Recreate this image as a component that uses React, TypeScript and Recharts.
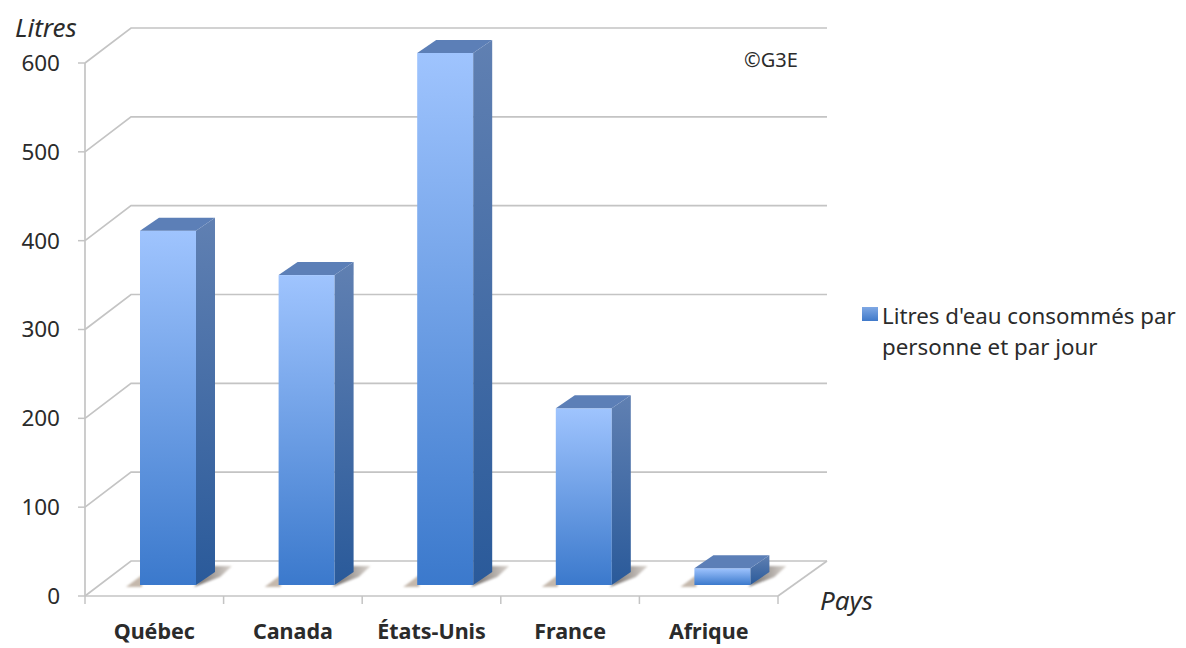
import { Bar, BarChart, CartesianGrid, Legend, XAxis, YAxis } from 'recharts';

const categories = ['Québec', 'Canada', 'États-Unis', 'France', 'Afrique'];
const litres = [400, 350, 600, 200, 20];
const yTicks = [0, 100, 200, 300, 400, 500, 600];
const seriesName = "Litres d'eau consommés par personne et par jour";

const data = categories.map((pays, i) => ({ pays, litres: litres[i] }));

const FONT = '"Noto Sans", sans-serif';
const TEXT = '#2b2b2b';
const LINE = '#c4c4c4';

// depth of the fake 3D walls and of the bars
const WALL_DX = 46;
const WALL_DY = 35;
const BAR_SHIFT_X = 14;
const BAR_SHIFT_Y = 11;
const BAR_DX = 19;
const BAR_DY = 13;
const BAND = 138.6;

const WallLine = ({ x1, x2, y1, index }: any) => {
  const y = y1;
  const back = y - WALL_DY;
  return (
    <g key={index}>
      <polyline
        points={`${x1},${y} ${x1 + WALL_DX},${back} ${x2 + 49},${back}`}
        fill="none"
        stroke={LINE}
        strokeWidth={1.7}
      />
      {/* right edge of the floor */}
      {Math.abs(y - 596) < 1 && (
        <line x1={x2} y1={y} x2={x2 + 49} y2={back} stroke={LINE} strokeWidth={1.7} />
      )}
    </g>
  );
};

const Box = ({ x, y, width, height }: any) => {
  const left = x + BAR_SHIFT_X;
  const right = left + width;
  const top = y - BAR_SHIFT_Y + 1;
  const bottom = y - BAR_SHIFT_Y + height;
  return (
    <g>
      <polygon
        points={`${left - 14},${bottom + 2} ${left + 2},${bottom - 10} ${left + 2},${bottom + 2}`}
        fill="#c4b8ac"
        filter="url(#soft)"
      />
      <polygon
        points={`${right - 2},${bottom + 2} ${right + BAR_DX - 2},${bottom - BAR_DY - 6} ${right + 36},${bottom - BAR_DY - 6} ${right + 24},${bottom - 8}`}
        fill="url(#floorShadow)"
        filter="url(#soft)"
      />
      <rect x={left} y={top} width={width} height={bottom - top} fill="url(#barFront)" />
      <polygon
        points={`${right},${top} ${right + BAR_DX},${top - BAR_DY} ${right + BAR_DX},${bottom - BAR_DY} ${right},${bottom}`}
        fill="url(#barSide)"
      />
      <polygon
        points={`${left},${top} ${left + BAR_DX},${top - BAR_DY} ${right + BAR_DX},${top - BAR_DY} ${right},${top}`}
        fill="#5c7fb7"
      />
    </g>
  );
};

const CategoryTick = ({ x, y, payload, index }: any) => (
  <g>
    <line x1={x - BAND / 2} y1={596} x2={x - BAND / 2} y2={604} stroke={LINE} strokeWidth={1.5} />
    {index === categories.length - 1 && (
      <line x1={x + BAND / 2} y1={596} x2={x + BAND / 2} y2={604} stroke={LINE} strokeWidth={1.5} />
    )}
    <text x={x} y={y + 35} textAnchor="middle" fontFamily={FONT} fontWeight="bold" fontSize={21.5} fill={TEXT}>
      {payload.value}
    </text>
  </g>
);

const LegendBox = ({ payload }: any) => (
  <div style={{ position: 'relative', paddingLeft: 20, fontFamily: FONT, fontSize: 22.3, lineHeight: '31px', color: TEXT }}>
    <span
      style={{
        position: 'absolute',
        left: 0,
        top: 7,
        width: 16,
        height: 14,
        background: 'linear-gradient(#7fa8e4, #3f79c9)',
      }}
    />
    {payload?.[0]?.value}
  </div>
);

export default function App() {
  return (
    <div style={{ position: 'absolute', left: 0, top: 0, width: 1186, height: 648, background: '#fff' }}>
      <BarChart
        width={1186}
        height={648}
        data={data}
        barSize={56}
        margin={{ top: 63, right: 408, bottom: 0, left: 5 }}
      >
        <defs>
          <linearGradient id="barFront" x1="0" y1="0" x2="0" y2="1">
            <stop offset="0%" stopColor="#9fc4fe" />
            <stop offset="100%" stopColor="#3b79cc" />
          </linearGradient>
          <linearGradient id="barSide" x1="0" y1="0" x2="0" y2="1">
            <stop offset="0%" stopColor="#6080b2" />
            <stop offset="100%" stopColor="#2a5a9a" />
          </linearGradient>
          <linearGradient id="floorShadow" x1="0" y1="0" x2="1" y2="0">
            <stop offset="0%" stopColor="#6f6a68" />
            <stop offset="100%" stopColor="#dcd6d0" />
          </linearGradient>
          <filter id="soft" x="-20%" y="-20%" width="140%" height="140%">
            <feGaussianBlur stdDeviation="1" />
          </filter>
        </defs>
        <CartesianGrid vertical={false} horizontal={WallLine} />
        <XAxis
          dataKey="pays"
          height={52}
          interval={0}
          tick={CategoryTick}
          tickLine={false}
          axisLine={{ stroke: LINE, strokeWidth: 1.7 }}
        />
        <YAxis
          width={80}
          domain={[0, 600]}
          ticks={yTicks}
          tickSize={7}
          tickMargin={18}
          tick={{ fontFamily: FONT, fontSize: 22.5, fill: TEXT }}
          tickLine={{ stroke: LINE, strokeWidth: 1.5 }}
          axisLine={{ stroke: LINE, strokeWidth: 1.7 }}
        />
        <Bar dataKey="litres" name={seriesName} shape={Box} isAnimationActive={false} />
        <Legend
          layout="horizontal"
          verticalAlign="middle"
          align="center"
          width={320}
          content={LegendBox}
          wrapperStyle={{ left: 862, top: 300 }}
        />
        <text x={15} y={37} fontFamily={FONT} fontStyle="italic" fontSize={26} fill={TEXT}>
          Litres
        </text>
        <text x={820} y={610} fontFamily={FONT} fontStyle="italic" fontSize={26} fill={TEXT}>
          Pays
        </text>
        <text x={744} y={67} fontFamily={FONT} fontSize={20} fill={TEXT}>
          ©G3E
        </text>
      </BarChart>
    </div>
  );
}
